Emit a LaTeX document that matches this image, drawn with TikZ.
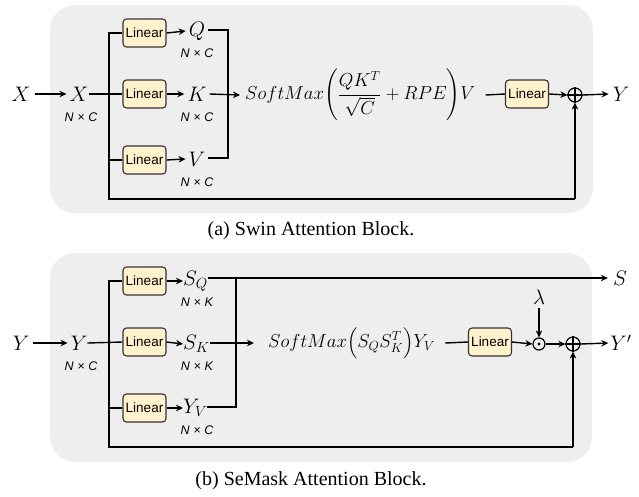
\RequirePackage{fix-cm}
\documentclass[tikz,border=0pt]{standalone}
\usepackage{amsmath}
\usepackage{fontspec}
\setmainfont{Liberation Serif}
\setsansfont{Liberation Sans}
\usetikzlibrary{arrows.meta}
\definecolor{panelgray}{HTML}{EEEEEE}
\definecolor{linfill}{HTML}{FFF2CC}
\definecolor{lindraw}{HTML}{333333}
\tikzset{
  panel/.style={fill=panelgray, draw=none, rounded corners=25pt},
  lin/.style={draw=lindraw, fill=linfill, rounded corners=3.5pt, line width=1.1pt,
    minimum width=43pt, minimum height=28pt, inner sep=0pt,
    font=\sffamily\fontsize{13.5}{15}\selectfont},
  dimlab/.style={font=\sffamily\itshape\fontsize{12.5}{14}\selectfont, inner sep=0pt},
  bigm/.style={font=\fontsize{21}{24}\selectfont, inner sep=0pt},
  formula/.style={font=\fontsize{18.8}{22}\selectfont, inner sep=0pt, anchor=west},
  captext/.style={font=\fontsize{20}{24}\selectfont, inner sep=0pt},
  conn/.style={line width=1.4pt},
  arr/.style={conn, -{Stealth[length=7pt,width=6.5pt]}},
  opc/.style={circle, draw, line width=1.2pt, inner sep=0pt, minimum size=14pt},
}
\newcommand{\dimNC}{N\hspace{0.3em}×\hspace{0.3em}C}
\newcommand{\dimNK}{N\hspace{0.3em}×\hspace{0.3em}K}
\begin{document}
\begin{tikzpicture}[x=1pt,y=-1pt]
\useasboundingbox (0,0) rectangle (639,496);
% panels
\fill[panel] (50,5) rectangle (593,213);
\fill[panel] (50,253) rectangle (592,462);

% ---------- (a) Swin ----------
\node[bigm] (xin) at (21,94) {$X$};
\node[bigm] (xa) at (79,94) {$X$};
\node[dimlab] (xadim) at (81,117) {\dimNC};
\node[lin] (la1) at (144.5,33) {Linear};
\node[lin] (la2) at (144.5,94) {Linear};
\node[lin] (la3) at (144.5,160) {Linear};
\node[bigm] (q) at (197,31) {$Q$};
\node[bigm] (k) at (197,94) {$K$};
\node[bigm] (v) at (197,159) {$V$};
\node[dimlab] (qdim) at (197,53) {\dimNC};
\node[dimlab] (kdim) at (197,117) {\dimNC};
\node[dimlab] (vdim) at (197,182) {\dimNC};
\node[formula] (fa) at (245,95) {$SoftMax\mathopen{}\left(\dfrac{QK^T}{\sqrt{C}}+RPE\right)\mathclose{}V$};
\node[lin] (la4) at (527,94) {Linear};
\node[opc] (pa) at (575,95) {};
\draw[line width=1.2pt] (pa.north) -- (pa.south) (pa.west) -- (pa.east);
\node[bigm] (ya) at (621,94) {$Y$};
\coordinate (sa) at (109,33);
\coordinate (ba) at (109,199);
\coordinate (jqa) at (228,30);
\coordinate (jva) at (228,158);

\draw[arr] (xin.east) ++(4,0) -- ([xshift=-3pt]xa.west);
\draw[conn] (xa.east) -- (la2.west);
\draw[conn] (la1.west) -- (sa) -- (ba) -- (pa.south |- ba);
\draw[arr] (pa.south |- ba) -- (pa.south);
\draw[conn] (ba |- la3.west) -- (la3.west);
\draw[arr] (la1.east) -- ([xshift=-3pt]q.west);
\draw[arr] (la2.east) -- ([xshift=-3pt]k.west);
\draw[arr] (la3.east) -- ([xshift=-3pt]v.west);
\draw[conn] ([xshift=3pt]q.east |- jqa) -- (jqa) -- (jva) -- ([xshift=3pt]v.east |- jva);
\draw[arr] ([xshift=3pt]k.east) -- ([xshift=-5pt]fa.west);
\draw[conn] ([xshift=10pt]fa.east) -- (la4.west);
\draw[arr] (la4.east) -- (pa.west);
\draw[arr] (pa.east) -- ([xshift=-4pt]ya.west);

\node[captext] (capa) at (311,231) {(a) Swin Attention Block.};

% ---------- (b) SeMask ----------
\node[bigm] (yin) at (21,343) {$Y$};
\node[bigm] (yb) at (79,343) {$Y$};
\node[dimlab] (ybdim) at (81,366) {\dimNC};
\node[lin] (lb1) at (144.5,281) {Linear};
\node[lin] (lb2) at (144.5,342) {Linear};
\node[lin] (lb3) at (144.5,408) {Linear};
\node[bigm, anchor=west] (sq) at (183,281) {$S_Q$};
\node[bigm, anchor=west] (sk) at (183,344) {$S_K$};
\node[bigm, anchor=west] (yv) at (183,408) {$Y_V$};
\node[dimlab] (sqdim) at (197,302) {\dimNK};
\node[dimlab] (skdim) at (197,366) {\dimNK};
\node[dimlab] (yvdim) at (197,430) {\dimNC};
\node[formula] (fb) at (268,343) {$SoftMax\Bigl(S_QS_K^T\Bigr)Y_V$};
\node[lin] (lb4) at (490,342) {Linear};
\node[circle, draw, line width=1.2pt, inner sep=0pt, minimum size=12pt] (od) at (539,344) {};
\fill (od.center) circle (1.6pt);
\node[opc] (pb) at (573,344) {};
\draw[line width=1.2pt] (pb.north) -- (pb.south) (pb.west) -- (pb.east);
\node[bigm] (lam) at (539,297) {$\lambda$};
\node[bigm] (yp) at (621,343) {$Y'$};
\node[bigm] (sout) at (620,278) {$S$};
\coordinate (sb) at (109,281);
\coordinate (bb) at (109,447);
\coordinate (jqb) at (236,278);
\coordinate (jvb) at (236,407);

\draw[arr] (yin.east) ++(4,0) -- ([xshift=-3pt]yb.west);
\draw[conn] (yb.east) -- (lb2.west);
\draw[conn] (lb1.west) -- (sb) -- (bb) -- (pb.south |- bb);
\draw[arr] (pb.south |- bb) -- (pb.south);
\draw[conn] (bb |- lb3.west) -- (lb3.west);
\draw[arr] (lb1.east) -- (sq.west);
\draw[arr] (lb2.east) -- (sk.west);
\draw[arr] (lb3.east) -- (yv.west);
\draw[conn] (sq.east |- jqb) -- (jqb) -- (jvb) -- (yv.east |- jvb);
\draw[arr] (jqb) -- ([xshift=-5pt]sout.west |- jqb);
\draw[arr] (sk.east |- fb.west) -- ([xshift=-14pt]fb.west);
\draw[conn] ([xshift=10pt]fb.east) -- (lb4.west);
\draw[arr] (lb4.east) -- (od.west);
\draw[arr] ([yshift=-4pt]lam.south) -- (od.north);
\draw[arr] (od.east) -- (pb.west);
\draw[arr] (pb.east) -- ([xshift=-2pt]yp.west);

\node[captext] (capb) at (311,481) {(b) SeMask Attention Block.};
\end{tikzpicture}
\end{document}
